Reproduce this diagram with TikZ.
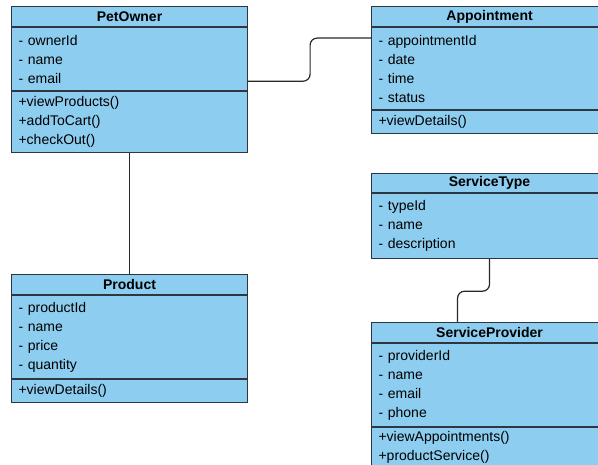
\documentclass[tikz,border=0pt]{standalone}
\usepackage{fontspec}
\setmainfont{Liberation Sans}
\usepackage{tikz}
\definecolor{boxfill}{RGB}{141,205,240}
\definecolor{edgecol}{RGB}{45,55,65}
\definecolor{linkcol}{RGB}{40,40,40}
\tikzset{
  classbox/.style={draw=edgecol, fill=boxfill, line width=1.1pt, anchor=north west,
    inner xsep=7pt, inner ysep=2pt, text width=222pt, align=left,
    font=\fontsize{14}{19}\selectfont},
  classname/.style={classbox, align=center, font=\fontsize{14}{19}\selectfont\bfseries},
  link/.style={draw=linkcol, line width=1.2pt, rounded corners=7pt}
}

\begin{document}
\begin{tikzpicture}[x=1pt, y=-1pt]
	   \useasboundingbox[fill=white] (0,0) rectangle (598,465);

	   % pet owner
	   \node[classname, minimum height=20pt] (petowner) at (11,6) {PetOwner};
	   \node[classbox, minimum height=63pt] (petowner-attr) at (petowner.south west)
		   {- ownerId\\ - name\\ - email};
	   \node[classbox, minimum height=61pt] (petowner-ops) at (petowner-attr.south west)
		   {+viewProducts()\\ +addToCart()\\ +checkOut()};

	   % product
	   \node[classname, minimum height=20pt] (product) at (11,274) {Product};
	   \node[classbox, minimum height=83pt] (product-attr) at (product.south west)
		   {- productId\\ - name\\ - price\\ - quantity};
	   \node[classbox, minimum height=23pt] (product-ops) at (product-attr.south west)
		   {+viewDetails()};

	   % appointment
	   \node[classname, minimum height=20pt] (appointment) at (371,6) {Appointment};
	   \node[classbox, minimum height=82pt] (appointment-attr) at (appointment.south west)
		   {- appointmentId\\ - date\\ - time\\ - status};
	   \node[classbox, minimum height=23pt] (appointment-ops) at (appointment-attr.south west)
		   {+viewDetails()};

	   % service type
	   \node[classname, minimum height=19pt] (servicetype) at (371,173) {ServiceType};
	   \node[classbox, minimum height=65pt] (servicetype-attr) at (servicetype.south west)
		   {- typeId\\ - name\\ - description};

	   % service provider
	   \node[classname, minimum height=20pt] (serviceprovider) at (371,322) {ServiceProvider};
	   \node[classbox, minimum height=83pt] (serviceprovider-attr) at (serviceprovider.south west)
		   {- providerId\\ - name\\ - email\\ - phone};
	   \node[classbox, minimum height=40pt] (serviceprovider-ops) at (serviceprovider-attr.south west)
		   {+viewAppointments()\\ +productService()};

	   % associations
	   \draw[link] (petowner-ops.south) -- (product.north);
	   \draw[link] ([yshift=10pt]petowner-attr.south east) -- ++(62pt,0)
		   |- ([yshift=-11pt]appointment-attr.north west);
	   \draw[link] (servicetype-attr.south) -- ++(0,32) -| ([xshift=-32pt]serviceprovider.north);
\end{tikzpicture}
\end{document}
